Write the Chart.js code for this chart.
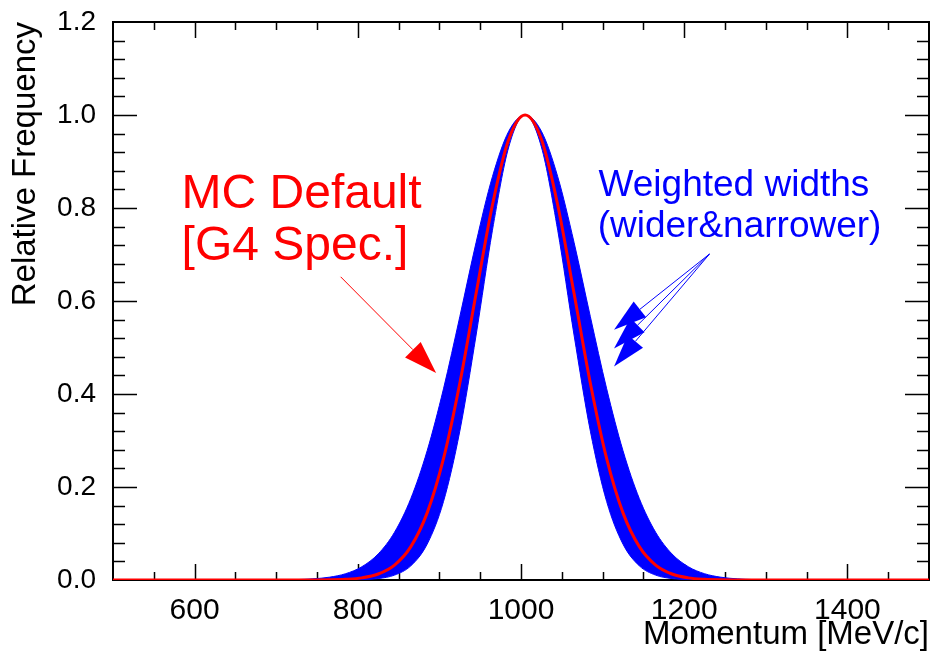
<!DOCTYPE html>
<html>
<head>
<meta charset="utf-8">
<script src="https://cdn.jsdelivr.net/npm/chart.js@4.4.0/dist/chart.umd.min.js"></script>
<style>
  html, body { margin: 0; padding: 0; background: #fff; }
</style>
</head>
<body>
<canvas id="grafica" width="930" height="653"></canvas>
<script>
// momentum points (MeV/c) and the three curves
const momentum = [500,
  685, 705, 725, 745, 765, 785, 805, 825, 845, 865, 885, 905, 925, 945, 965, 985,
  1005,
  1025, 1045, 1065, 1085, 1105, 1125, 1145, 1165, 1185, 1205, 1225, 1245, 1265, 1285, 1305, 1325,
  1500];

const mcDefault = [0,
  0, 0, 0, 0.0001, 0.0004, 0.0015, 0.0046, 0.0129, 0.0321, 0.0718, 0.1444, 0.2609, 0.4232, 0.6165, 0.8065, 0.9477,
  1,
  0.9477, 0.8065, 0.6165, 0.4232, 0.2609, 0.1444, 0.0718, 0.0321, 0.0129, 0.0046, 0.0015, 0.0004, 0.0001, 0, 0, 0,
  0];

const widthWider = [0,
  0.0001, 0.0003, 0.0009, 0.0025, 0.0060, 0.0135, 0.0286, 0.0561, 0.1027, 0.1752, 0.2780, 0.4111, 0.5662, 0.7261, 0.8674, 0.9651,
  1,
  0.9651, 0.8674, 0.7261, 0.5662, 0.4111, 0.2780, 0.1752, 0.1027, 0.0561, 0.0286, 0.0135, 0.0060, 0.0025, 0.0009, 0.0003, 0.0001,
  0];

const widthNarrower = [0,
  0, 0, 0, 0, 0, 0.0002, 0.0008, 0.0031, 0.0105, 0.0305, 0.0771, 0.1686, 0.3201, 0.5269, 0.7522, 0.9313,
  1,
  0.9313, 0.7522, 0.5269, 0.3201, 0.1686, 0.0771, 0.0305, 0.0105, 0.0031, 0.0008, 0.0002, 0, 0, 0, 0, 0,
  0];

const xTicks = [600, 800, 1000, 1200, 1400];
const yTicks = [0, 0.2, 0.4, 0.6, 0.8, 1.0, 1.2];

const redLabel = ['MC Default', '[G4 Spec.]'];
const blueLabel = ['Weighted widths', '(wider&narrower)'];

function puntos(ys) {
  return momentum.map((x, i) => ({ x: x, y: ys[i] }));
}

function flecha(ctx, x0, y0, x1, y1, color, largo, ancho) {
  const ang = Math.atan2(y1 - y0, x1 - x0);
  const bx = x1 - largo * Math.cos(ang);
  const by = y1 - largo * Math.sin(ang);
  ctx.strokeStyle = color;
  ctx.lineWidth = 1;
  ctx.beginPath();
  ctx.moveTo(x0, y0);
  ctx.lineTo(bx, by);
  ctx.stroke();
  ctx.fillStyle = color;
  ctx.beginPath();
  ctx.moveTo(x1, y1);
  ctx.lineTo(bx + ancho * Math.sin(ang), by - ancho * Math.cos(ang));
  ctx.lineTo(bx - ancho * Math.sin(ang), by + ancho * Math.cos(ang));
  ctx.closePath();
  ctx.fill();
}

// ROOT style frame with ticks on all four sides
const marcoRoot = {
  id: 'marcoRoot',
  beforeDatasetsDraw(chart) {
    const { ctx, chartArea: a, scales } = chart;
    const sx = scales.x, sy = scales.y;
    ctx.save();
    ctx.strokeStyle = '#000';
    ctx.lineWidth = 2;
    ctx.strokeRect(a.left, a.top, a.right - a.left, a.bottom - a.top);
    ctx.lineWidth = 1.5;
    ctx.beginPath();
    for (let v = 550; v < 1500; v += 50) {
      const px = Math.round(sx.getPixelForValue(v)) + 0.5;
      const len = v % 200 === 0 ? 16 : 8;
      ctx.moveTo(px, a.bottom); ctx.lineTo(px, a.bottom - len);
      ctx.moveTo(px, a.top); ctx.lineTo(px, a.top + len);
    }
    for (let i = 1; i < 30; i++) {
      const py = Math.round(sy.getPixelForValue(i * 0.04)) + 0.5;
      const len = i % 5 === 0 ? 24 : 12;
      ctx.moveTo(a.left, py); ctx.lineTo(a.left + len, py);
      ctx.moveTo(a.right, py); ctx.lineTo(a.right - len, py);
    }
    ctx.stroke();
    ctx.restore();
  },
  afterDatasetsDraw(chart) {
    const { ctx, scales } = chart;
    const sx = scales.x, sy = scales.y;
    ctx.save();
    ctx.textAlign = 'left';
    ctx.textBaseline = 'alphabetic';

    ctx.fillStyle = '#ff0000';
    ctx.font = '48px "Liberation Sans", Arial, sans-serif';
    ctx.fillText(redLabel[0], sx.getPixelForValue(584), sy.getPixelForValue(0.800));
    ctx.fillText(redLabel[1], sx.getPixelForValue(584), sy.getPixelForValue(0.688));
    flecha(ctx, sx.getPixelForValue(779), sy.getPixelForValue(0.652),
      sx.getPixelForValue(896), sy.getPixelForValue(0.445), '#ff0000', 33, 11);

    ctx.fillStyle = '#0000ff';
    ctx.font = '37px "Liberation Sans", Arial, sans-serif';
    ctx.fillText(blueLabel[0], sx.getPixelForValue(1095), sy.getPixelForValue(0.826));
    ctx.fillText(blueLabel[1], sx.getPixelForValue(1094), sy.getPixelForValue(0.737));
    [0.538, 0.498, 0.459].forEach(yt => {
      flecha(ctx, sx.getPixelForValue(1231), sy.getPixelForValue(0.701),
        sx.getPixelForValue(1114), sy.getPixelForValue(yt), '#0000ff', 33, 10);
    });
    ctx.restore();
  }
};

const fuente = { family: '"Liberation Sans", Arial, sans-serif', size: 28 };

new Chart(document.getElementById('grafica'), {
  type: 'line',
  data: {
    datasets: [
      {
        data: puntos(widthWider),
        borderColor: '#0000ff',
        backgroundColor: '#0000ff',
        borderWidth: 1,
        fill: '+1',
        pointRadius: 0,
        cubicInterpolationMode: 'monotone',
        order: 2
      },
      {
        data: puntos(widthNarrower),
        borderColor: '#0000ff',
        borderWidth: 1,
        fill: false,
        pointRadius: 0,
        cubicInterpolationMode: 'monotone',
        order: 1
      },
      {
        data: puntos(mcDefault),
        borderColor: '#ff0000',
        borderWidth: 3,
        fill: false,
        pointRadius: 0,
        cubicInterpolationMode: 'monotone',
        order: 0
      }
    ]
  },
  options: {
    responsive: false,
    animation: false,
    devicePixelRatio: 1,
    layout: { padding: { top: 22, right: 1, left: 0, bottom: 0 } },
    plugins: { legend: { display: false }, tooltip: { enabled: false } },
    scales: {
      x: {
        type: 'linear',
        min: 500,
        max: 1500,
        grid: { display: false },
        border: { display: false },
        afterBuildTicks: s => { s.ticks = xTicks.map(v => ({ value: v })); },
        afterFit: s => { s.height = 73; s.paddingLeft = 0; s.paddingRight = 0; },
        ticks: { font: { family: fuente.family, size: 30 }, color: '#000', padding: 5, maxRotation: 0, callback: v => String(v) },
        title: {
          display: true, text: 'Momentum [MeV/c]', align: 'end', color: '#000',
          font: { family: fuente.family, size: 33 }, padding: { top: 0, bottom: -2 }
        }
      },
      y: {
        type: 'linear',
        min: 0,
        max: 1.2,
        grid: { display: false },
        border: { display: false },
        afterBuildTicks: s => { s.ticks = yTicks.map(v => ({ value: v })); },
        afterFit: s => { s.width = 113; s.paddingTop = 0; s.paddingBottom = 0; },
        ticks: { font: fuente, color: '#000', padding: 9, callback: v => v.toFixed(1) },
        title: {
          display: true, text: 'Relative Frequency', align: 'end', color: '#000',
          font: { family: fuente.family, size: 33 }, padding: { top: 6, bottom: 0 }
        }
      }
    }
  },
  plugins: [marcoRoot]
});
</script>
</body>
</html>
